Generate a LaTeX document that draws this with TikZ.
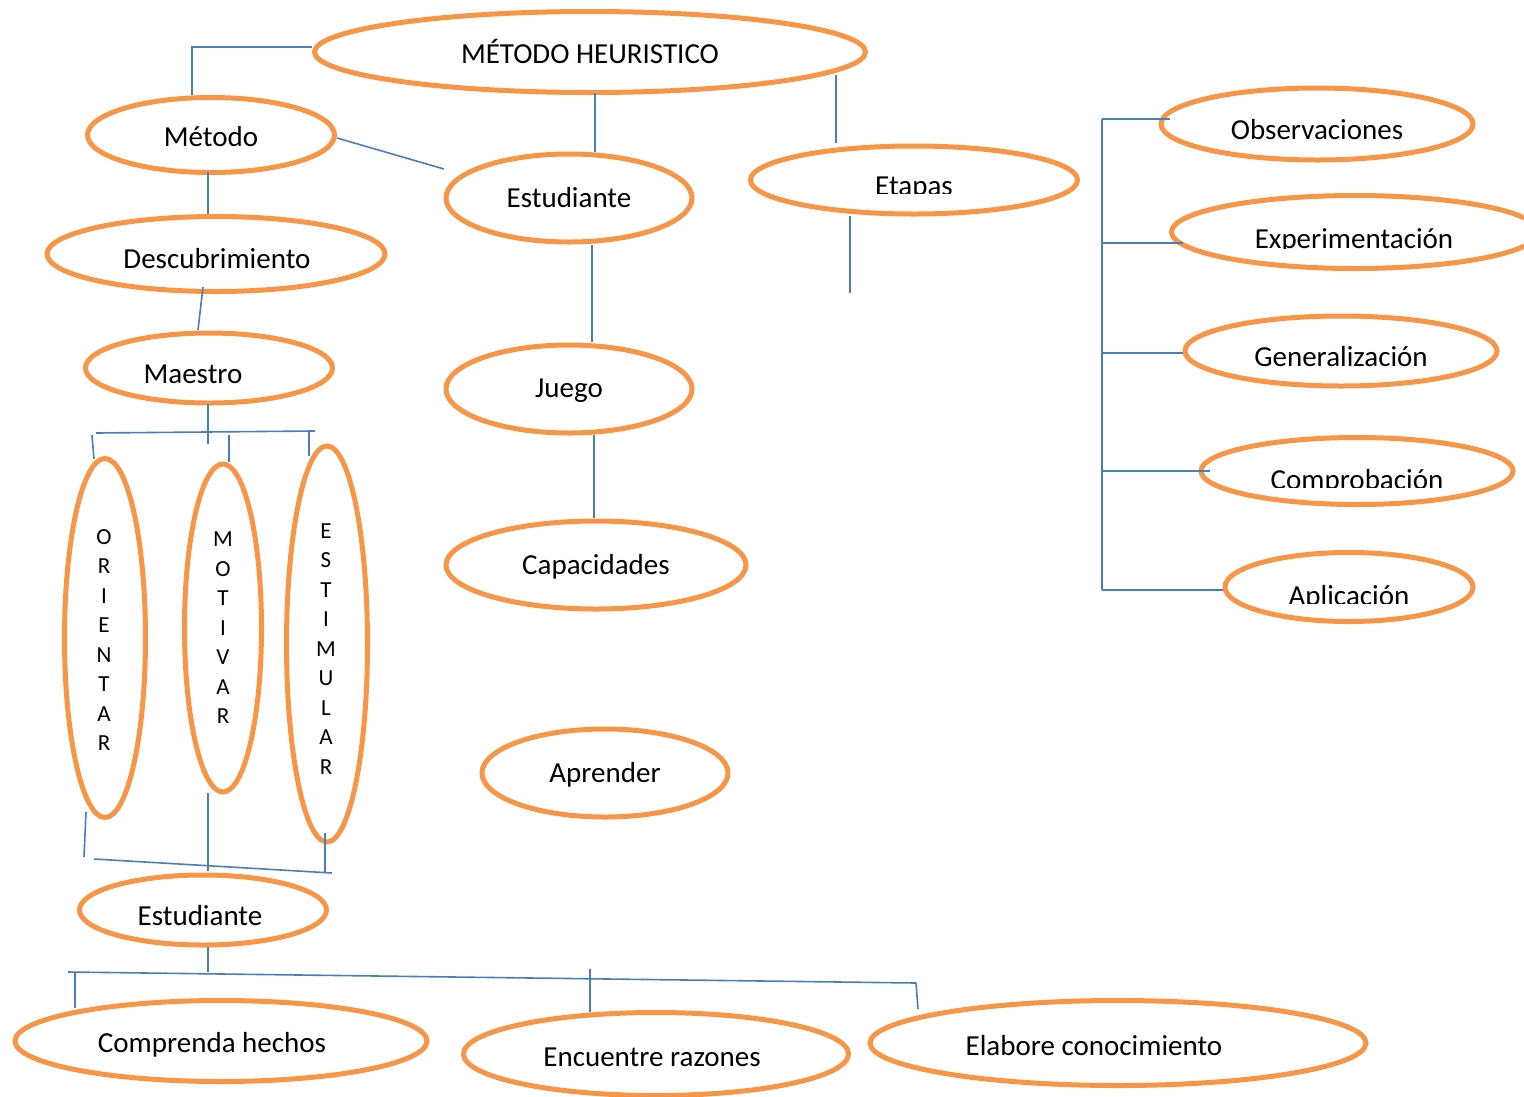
\documentclass[tikz,border=0pt]{standalone}
\usepackage{fontspec}
\setmainfont{Carlito}
\usetikzlibrary{shapes.geometric}
\definecolor{ora}{HTML}{F79646}
\definecolor{blu}{HTML}{4A7EBB}
\tikzset{
  ov/.style={ellipse, draw=ora, line width=5pt, inner sep=0pt},
  lab/.style={anchor=base, inner sep=0pt, font=\fontsize{29}{34}\selectfont},
  vlab/.style={inner sep=0pt, align=center, font=\fontsize{23}{29.5}\selectfont},
  con/.style={draw=blu, line width=1.6pt},
}
\begin{document}
\begin{tikzpicture}[x=1pt,y=-1pt]
\clip (0,0) rectangle (1524,1096);
\fill[white] (0,0) rectangle (1524,1096);

% ellipses
\node[ov, minimum width=551, minimum height=81] (heur) at (590,52) {};
\node[ov, minimum width=247, minimum height=75] (met) at (211,135) {};
\node[ov, minimum width=246, minimum height=88] (est1) at (569,198) {};
\node[ov, minimum width=327, minimum height=68] (eta) at (914,180) {};
\node[ov, minimum width=338, minimum height=75] (desc) at (216,254) {};
\node[ov, minimum width=247, minimum height=70] (mae) at (209,368) {};
\node[ov, minimum width=246, minimum height=88] (jue) at (569,389) {};
\node[ov, minimum width=300, minimum height=88] (cap) at (596,565) {};
\node[ov, minimum width=246, minimum height=88] (apr) at (605,773) {};
\node[ov, minimum width=81, minimum height=359] (ori) at (105,638) {};
\node[ov, minimum width=77, minimum height=328] (mot) at (223,628) {};
\node[ov, minimum width=81, minimum height=396] (esti) at (327,644) {};
\node[ov, minimum width=247, minimum height=70] (est2) at (203,910) {};
\node[ov, minimum width=412, minimum height=81] (comp) at (221,1041) {};
\node[ov, minimum width=385, minimum height=83] (enc) at (656,1054) {};
\node[ov, minimum width=496, minimum height=85] (elab) at (1118,1043) {};
\node[ov, minimum width=312, minimum height=72] (obs) at (1317,124) {};
\node[ov, minimum width=367, minimum height=73] (exp) at (1355,232) {};
\node[ov, minimum width=312, minimum height=70] (gen) at (1341,351) {};
\node[ov, minimum width=312, minimum height=67] (comb) at (1357,471) {};
\node[ov, minimum width=248, minimum height=69] (apl) at (1349,587) {};

% texts
\node[lab] (t-heur) at (590,63) {MÉTODO HEURISTICO};
\node[lab] (t-met) at (211,146) {Método};
\node[lab] (t-est1) at (569,207) {Estudiante};
\node[lab] (t-desc) at (217,268) {Descubrimiento};
\node[lab] (t-mae) at (193,383) {Maestro};
\node[lab] (t-jue) at (569,397) {Juego};
\node[lab] (t-cap) at (596,574) {Capacidades};
\node[lab] (t-apr) at (605,782) {Aprender};
\node[lab] (t-est2) at (200,925) {Estudiante};
\node[lab] (t-comp) at (212,1052) {Comprenda hechos};
\node[lab] (t-enc) at (652,1066) {Encuentre razones};
\node[lab] (t-elab) at (1094,1055) {Elabore conocimiento};
\node[lab] (t-obs) at (1317,139) {Observaciones};
\node[lab] (t-gen) at (1341,366) {Generalización};
\begin{scope}
  \clip (800,150) rectangle (1030,193);
  \node[lab] (t-eta) at (914,195) {Etapas};
\end{scope}
\begin{scope}
  \clip (1200,200) rectangle (1520,248);
  \node[lab] (t-exp) at (1354,248) {Experimentación};
\end{scope}
\begin{scope}
  \clip (1230,440) rectangle (1500,487);
  \node[lab] (t-comb) at (1357,489) {Comprobación};
\end{scope}
\begin{scope}
  \clip (1260,560) rectangle (1450,603);
  \node[lab] (t-apl) at (1349,605) {Aplicación};
\end{scope}
\node[vlab] (t-ori) at (104,640) {O\\R\\I\\E\\N\\T\\A\\R};
\node[vlab] (t-mot) at (223,628) {M\\O\\T\\I\\V\\A\\R};
\node[vlab] (t-esti) at (326,649) {E\\S\\T\\I\\M\\U\\L\\A\\R};

% connector coordinates
\coordinate (h1) at (312,47);
\coordinate (h2) at (192,47);
\coordinate (m1) at (192,95);
\draw[con] (h1) -- (h2) -- (m1);

\coordinate (h3) at (595,93);
\coordinate (e1) at (595,152);
\draw[con] (h3) -- (e1);

\coordinate (h4) at (836,75);
\coordinate (et1) at (836,143);
\draw[con] (h4) -- (et1);

\coordinate (m2) at (337,138);
\coordinate (e2) at (444,169);
\draw[con] (m2) -- (e2);

\coordinate (m3) at (208,172);
\coordinate (d1) at (208,214);
\draw[con] (m3) -- (d1);

\coordinate (d2) at (203,287);
\coordinate (ma1) at (198,330);
\draw[con] (d2) -- (ma1);

\coordinate (e3) at (592,245);
\coordinate (j1) at (592,342);
\draw[con] (e3) -- (j1);

\coordinate (j2) at (594,435);
\coordinate (c1) at (594,518);
\draw[con] (j2) -- (c1);

\coordinate (et2) at (850,216);
\coordinate (etEnd) at (850,293);
\draw[con] (et2) -- (etEnd);

% Maestro to three verbs
\coordinate (ma2) at (208,404);
\coordinate (ma3) at (208,444);
\draw[con] (ma2) -- (ma3);
\coordinate (tl) at (96,433);
\coordinate (tr) at (315,431);
\draw[con] (tl) -- (tr);
\coordinate (o1) at (92,435);
\coordinate (o2) at (94,459);
\draw[con] (o1) -- (o2);
\coordinate (mo1) at (229,435);
\coordinate (mo2) at (229,462);
\draw[con] (mo1) -- (mo2);
\coordinate (s1) at (309,430);
\coordinate (s2) at (309,456);
\draw[con] (s1) -- (s2);

% verbs to Estudiante
\coordinate (o3) at (86,812);
\coordinate (o4) at (84,857);
\draw[con] (o3) -- (o4);
\coordinate (bl) at (94,859);
\coordinate (br) at (332,873);
\draw[con] (bl) -- (br);
\coordinate (mo3) at (208,793);
\coordinate (es1) at (208,871);
\draw[con] (mo3) -- (es1);
\coordinate (s3) at (325,833);
\coordinate (s4) at (325,873);
\draw[con] (s3) -- (s4);

% Estudiante to bottom row
\coordinate (es2) at (208,947);
\coordinate (es3) at (208,972);
\draw[con] (es2) -- (es3);
\coordinate (ll) at (68,972);
\coordinate (lr) at (916,983);
\draw[con] (ll) -- (lr);
\coordinate (cp1) at (75,972);
\coordinate (cp2) at (75,1008);
\draw[con] (cp1) -- (cp2);
\coordinate (en1) at (590,969);
\coordinate (en2) at (590,1012);
\draw[con] (en1) -- (en2);
\coordinate (el1) at (916,983);
\coordinate (el2) at (918,1009);
\draw[con] (el1) -- (el2);

% right bracket
\coordinate (bt) at (1102,119);
\coordinate (bb) at (1102,590);
\draw[con] (bt) -- (bb);
\coordinate (ob) at (1170,119);
\coordinate (ex) at (1183,243);
\coordinate (ge) at (1183,353);
\coordinate (co) at (1210,471);
\coordinate (ap) at (1223,590);
\draw[con] (bt) -- (ob);
\draw[con] (1102,243) -- (ex);
\draw[con] (1102,353) -- (ge);
\draw[con] (1102,471) -- (co);
\draw[con] (bb) -- (ap);
\end{tikzpicture}
\end{document}
